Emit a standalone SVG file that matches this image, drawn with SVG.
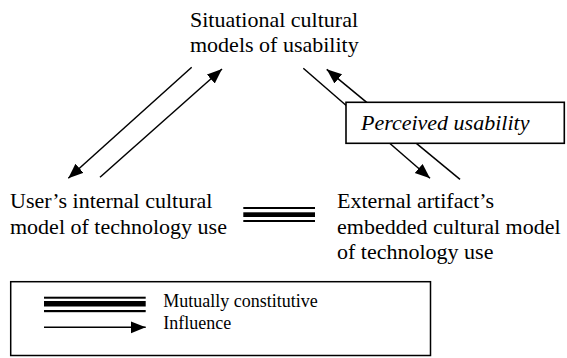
<svg xmlns="http://www.w3.org/2000/svg" width="567" height="358" viewBox="0 0 567 358">
<style>
text{font-family:"Liberation Serif","Times New Roman",serif;fill:#000}
.t{font-size:22px}
.lg{font-size:18px}
.ln{stroke:#000;stroke-width:1.5;fill:none}
.box{fill:#fff;stroke:#000;stroke-width:1.6}
</style>
<defs>
<marker id="ah" markerUnits="userSpaceOnUse" markerWidth="16" markerHeight="13" refX="15" refY="6" orient="auto" viewBox="0 0 16 13">
<path d="M0,0 L15,6 L0,12 z" fill="#000"/>
</marker>
</defs>
<g id="connectors">
<line class="ln" x1="191.7" y1="67.3" x2="68.3" y2="178.3" marker-end="url(#ah)"/>
<line class="ln" x1="100" y1="177.3" x2="222" y2="69" marker-end="url(#ah)"/>
<line class="ln" x1="303.3" y1="68.3" x2="430" y2="178.3" marker-end="url(#ah)"/>
<line class="ln" x1="460" y1="179.3" x2="326.7" y2="69.3" marker-end="url(#ah)"/>
<g id="mutual">
<rect x="243.3" y="207" width="71.7" height="2" fill="#000"/>
<rect x="243.3" y="212.3" width="71.7" height="4.7" fill="#000"/>
<rect x="243.3" y="220" width="71.7" height="2" fill="#000"/>
</g>
</g>
<g id="situational">
<text class="t" x="190" y="27">Situational cultural</text>
<text class="t" x="190" y="52">models of usability</text>
</g>
<g id="user">
<text class="t" x="10" y="208">User’s internal cultural</text>
<text class="t" x="10" y="234">model of technology use</text>
</g>
<g id="artifact">
<text class="t" x="337" y="208">External artifact’s</text>
<text class="t" x="337" y="233.5">embedded cultural model</text>
<text class="t" x="337" y="259">of technology use</text>
</g>
<g id="perceived">
<rect class="box" x="346" y="102.3" width="218.3" height="41"/>
<text class="t" x="361" y="130" font-style="italic">Perceived usability</text>
</g>
<g id="legend">
<rect x="10.7" y="281.7" width="419.8" height="73.8" fill="none" stroke="#000" stroke-width="1.5"/>
<rect x="44" y="296.7" width="101.7" height="2" fill="#000"/>
<rect x="44" y="301" width="101.7" height="5.5" fill="#000"/>
<rect x="44" y="310" width="101.7" height="2.2" fill="#000"/>
<line class="ln" x1="44" y1="327.3" x2="145.7" y2="327.3" marker-end="url(#ah)"/>
<text class="lg" x="163.3" y="306.7">Mutually constitutive</text>
<text class="lg" x="163.3" y="329.3">Influence</text>
</g>
</svg>
